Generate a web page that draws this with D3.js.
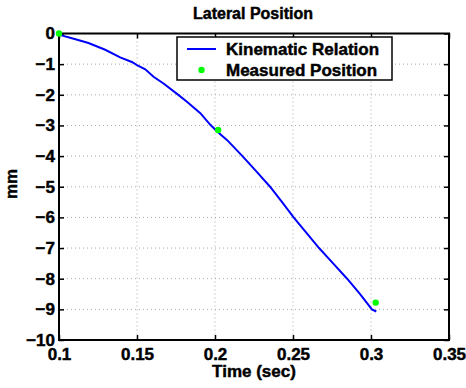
<!DOCTYPE html>
<html>
<head>
<meta charset="utf-8">
<script src="https://cdn.jsdelivr.net/npm/d3@7"></script>
<style>
  body { margin: 0; background: #fff; }
  svg text {
    font-family: "Liberation Sans", Arial, Helvetica, sans-serif;
    font-weight: bold;
    stroke: #000; stroke-width: 0.45px;
  }
</style>
</head>
<body>
<svg id="chart" width="466" height="388"></svg>
<script>
// kinematic relation curve (time in sec, lateral position in mm)
const kinTime = [0.1, 0.1017, 0.11, 0.1189, 0.1296, 0.1392, 0.1467, 0.15, 0.1553, 0.1606,
  0.167, 0.1767, 0.182, 0.1906, 0.197, 0.2014, 0.2078, 0.2176, 0.2265, 0.2353, 0.243,
  0.2504, 0.2585, 0.2667, 0.2757, 0.2847, 0.293, 0.3006, 0.3034];
const kinPos = [0, -0.06, -0.18, -0.31, -0.53, -0.78, -0.93, -1.03, -1.17, -1.41,
  -1.63, -2.01, -2.23, -2.6, -2.98, -3.2, -3.48, -4.0, -4.5, -5.0, -5.5,
  -6.0, -6.5, -7.0, -7.5, -8.0, -8.5, -9.0, -9.07];

// measured points
const measTime = [0.1, 0.202, 0.303];
const measPos = [0, -3.15, -8.78];

const xTicks = [0.1, 0.15, 0.2, 0.25, 0.3, 0.35];
const yTicks = [0, -1, -2, -3, -4, -5, -6, -7, -8, -9, -10];
const legendLabels = ["Kinematic Relation", "Measured Position"];

const plotL = 59, plotR = 449, plotT = 33.5, plotB = 340;
const svg = d3.select("#chart");

const x = d3.scaleLinear().domain([0.1, 0.35]).range([plotL, plotR]);
const y = d3.scaleLinear().domain([-10, 0]).range([plotB, plotT]);

const fmt = d => (d < 0 ? "\u2212" + Math.abs(d) : String(d));

// grid
const grid = svg.append("g").attr("stroke", "#a8a8a8").attr("stroke-width", 1)
  .attr("stroke-dasharray", "1,3");
grid.selectAll("line.gx")
  .data(xTicks.slice(1, -1))
  .enter().append("line")
  .attr("x1", d => x(d)).attr("x2", d => x(d))
  .attr("y1", plotT).attr("y2", plotB);
grid.selectAll("line.gy")
  .data(yTicks.slice(1, -1))
  .enter().append("line")
  .attr("x1", plotL).attr("x2", plotR)
  .attr("y1", d => y(d)).attr("y2", d => y(d));

// axes (ticks point inward)
const axisStyle = g => {
  g.select(".domain").remove();
  g.selectAll("line").attr("stroke", "#000").attr("stroke-width", 1.5);
  g.selectAll("text").attr("fill", "#000").style("font-size", "17px");
};

svg.append("g")
  .attr("transform", `translate(0,${plotB})`)
  .call(d3.axisBottom(x).tickValues(xTicks).tickSize(-5).tickFormat(d => d))
  .call(axisStyle)
  .selectAll("text").attr("dy", null).attr("y", 19.5);

svg.append("g")
  .attr("transform", `translate(0,${plotT})`)
  .call(d3.axisTop(x).tickValues(xTicks).tickSize(-5).tickFormat(""))
  .call(axisStyle);

svg.append("g")
  .attr("transform", `translate(${plotL},0)`)
  .call(d3.axisLeft(y).tickValues(yTicks).tickSize(-5).tickPadding(4).tickFormat(fmt))
  .call(axisStyle);

svg.append("g")
  .attr("transform", `translate(${plotR},0)`)
  .call(d3.axisRight(y).tickValues(yTicks).tickSize(-5).tickFormat(""))
  .call(axisStyle);

svg.append("rect")
  .attr("x", plotL).attr("y", plotT)
  .attr("width", plotR - plotL).attr("height", plotB - plotT)
  .attr("fill", "none").attr("stroke", "#000").attr("stroke-width", 2);

// curve
const line = d3.line().x(d => x(d[0])).y(d => y(d[1]));
svg.append("path")
  .datum(d3.zip(kinTime, kinPos))
  .attr("d", line)
  .attr("fill", "none")
  .attr("stroke", "#0000ff")
  .attr("stroke-width", 2);

svg.selectAll("circle.meas")
  .data(d3.zip(measTime, measPos))
  .enter().append("circle")
  .attr("cx", d => x(d[0])).attr("cy", d => y(d[1]))
  .attr("r", 3.2)
  .attr("fill", "#00ff00");

// titles
svg.append("text")
  .attr("x", 253).attr("y", 18.5)
  .attr("text-anchor", "middle")
  .style("font-size", "16px")
  .text("Lateral Position");

svg.append("text")
  .attr("x", 254).attr("y", 377)
  .attr("text-anchor", "middle")
  .style("font-size", "17px")
  .text("Time (sec)");

svg.append("text")
  .attr("transform", "translate(17,184) rotate(-90)")
  .attr("text-anchor", "middle")
  .style("font-size", "17px")
  .text("mm");

// legend
const lg = svg.append("g");
lg.append("rect")
  .attr("x", 177).attr("y", 37).attr("width", 215).attr("height", 43)
  .attr("fill", "#fff").attr("stroke", "#000").attr("stroke-width", 1.5);
lg.append("line")
  .attr("x1", 187).attr("x2", 216).attr("y1", 49).attr("y2", 49)
  .attr("stroke", "#0000ff").attr("stroke-width", 2);
lg.append("circle")
  .attr("cx", 201.5).attr("cy", 70).attr("r", 3.2).attr("fill", "#00ff00");
lg.selectAll("text")
  .data(legendLabels)
  .enter().append("text")
  .attr("x", 226).attr("y", (d, i) => 55 + i * 21)
  .style("font-size", "17px")
  .text(d => d);
</script>
</body>
</html>
